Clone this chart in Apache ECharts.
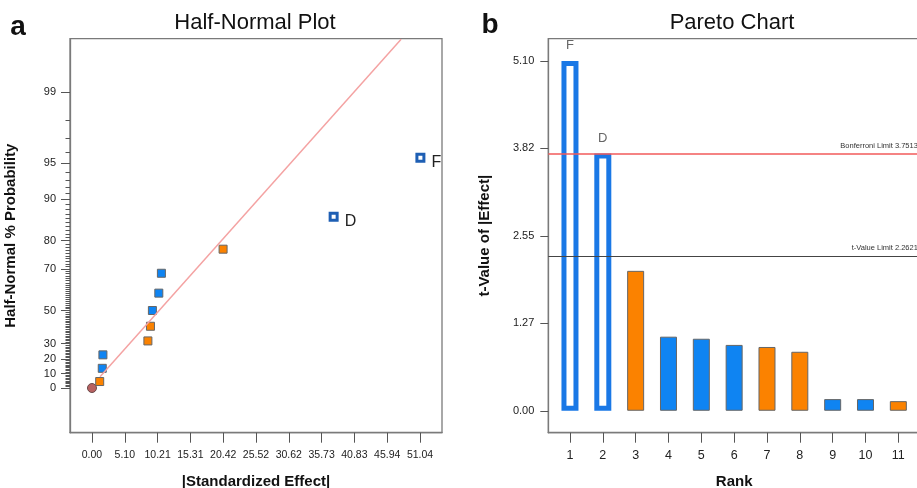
<!DOCTYPE html>
<html>
<head>
<meta charset="utf-8">
<script src="https://cdn.jsdelivr.net/npm/echarts@6/dist/echarts.min.js"></script>
<style>
  html, body { margin: 0; padding: 0; background: #fff; }
  #main { width: 917px; height: 488px; }
</style>
</head>
<body>
<div id="main"></div>
<script>
// ---- half-normal plot data ----
const xTickLabels = ['0.00', '5.10', '10.21', '15.31', '20.42', '25.52', '30.62', '35.73', '40.83', '45.94', '51.04'];
const probTickLabels = [0, 10, 20, 30, 50, 70, 80, 90, 95, 99];

const blueEffect = [1.6, 1.7, 9.4, 10.4, 10.8];
const blueProb = [13.6, 22.7, 50.0, 59.1, 68.2];
const orangeEffect = [1.2, 8.7, 9.1, 20.4];
const orangeProb = [4.5, 31.8, 40.9, 77.3];
const bigNames = ['D', 'F'];
const bigEffect = [37.6, 51.1];
const bigProb = [86.4, 95.5];
const errorEffect = [0];
const errorProb = [0];
const fitEffect = [1.25, 48.1];
const fitProb = [7.8, 99.76];

// ---- pareto chart data ----
const ranks = [1, 2, 3, 4, 5, 6, 7, 8, 9, 10, 11];
const tValues = [5.10, 3.75, 2.04, 1.08, 1.05, 0.96, 0.93, 0.86, 0.17, 0.17, 0.14];
const effectSign = ['+', '+', '-', '+', '+', '+', '-', '-', '+', '+', '-'];
const termNames = ['F', 'D', '', '', '', '', '', '', '', '', ''];
const tTickLabels = ['0.00', '1.27', '2.55', '3.82', '5.10'];
const tTickValues = [0, 1.275, 2.55, 3.825, 5.10];
const bonferroniLimit = 3.75131;
const tValueLimit = 2.26216;

const BLUE = '#0f84f2';
const ORANGE = '#fb8200';
const FONT = "'Liberation Sans', Arial, sans-serif";
const NARROW = "'Liberation Sans Narrow', 'Liberation Sans', Arial, sans-serif";

// inverse normal cdf (Acklam)
function normInv(p) {
  const a = [-3.969683028665376e+01, 2.209460984245205e+02, -2.759285104469687e+02, 1.383577518672690e+02, -3.066479806614716e+01, 2.506628277459239e+00];
  const b = [-5.447609879822406e+01, 1.615858368580409e+02, -1.556989798598866e+02, 6.680131188771972e+01, -1.328068155288572e+01];
  const c = [-7.784894002430293e-03, -3.223964580411365e-01, -2.400758277161838e+00, -2.549671010249000e+00, 4.374664141464968e+00, 2.938163982698783e+00];
  const d = [7.784695709041462e-03, 3.224671290700398e-01, 2.445134137142996e+00, 3.754408661907416e+00];
  const pl = 0.02425;
  let q, r;
  if (p < pl) {
    q = Math.sqrt(-2 * Math.log(p));
    return (((((c[0] * q + c[1]) * q + c[2]) * q + c[3]) * q + c[4]) * q + c[5]) / ((((d[0] * q + d[1]) * q + d[2]) * q + d[3]) * q + 1);
  }
  if (p <= 1 - pl) {
    q = p - 0.5; r = q * q;
    return (((((a[0] * r + a[1]) * r + a[2]) * r + a[3]) * r + a[4]) * r + a[5]) * q / (((((b[0] * r + b[1]) * r + b[2]) * r + b[3]) * r + b[4]) * r + 1);
  }
  q = Math.sqrt(-2 * Math.log(1 - p));
  return -(((((c[0] * q + c[1]) * q + c[2]) * q + c[3]) * q + c[4]) * q + c[5]) / ((((d[0] * q + d[1]) * q + d[2]) * q + d[3]) * q + 1);
}
// half-normal probability scale: % -> z
const hz = p => normInv(0.5 + p / 200);
const pairs = (xs, ps) => xs.map((x, i) => [x, hz(ps[i])]);

const probTickZ = probTickLabels.map(hz);
const probMinorZ = [];
for (let p = 1; p <= 98; p++) probMinorZ.push(hz(p));
const xTickValues = xTickLabels.map(parseFloat);

const hollow = i => termNames[i] !== '';

let myecharts = echarts.init(document.getElementById('main'));
myecharts.setOption({
  animation: false,
  graphic: [
    { type: 'text', x: 18, y: 27, style: { text: 'a', font: 'bold 28px ' + FONT, fill: '#111', align: 'center', verticalAlign: 'middle' } },
    { type: 'text', x: 255, y: 23, style: { text: 'Half-Normal Plot', font: 'normal 22px ' + FONT, fill: '#111', align: 'center', verticalAlign: 'middle' } },
    { type: 'text', x: 490, y: 25, style: { text: 'b', font: 'bold 28px ' + FONT, fill: '#111', align: 'center', verticalAlign: 'middle' } },
    { type: 'text', x: 732, y: 23, style: { text: 'Pareto Chart', font: 'normal 22px ' + FONT, fill: '#111', align: 'center', verticalAlign: 'middle' } }
  ],
  grid: [
    { left: 70, top: 38.7, width: 372, height: 394, show: true, borderColor: '#7a7a7a', borderWidth: 1.3, outerBoundsMode: 'none' },
    { left: 548.3, top: 38.7, width: 371.7, height: 394, show: true, borderColor: '#7a7a7a', borderWidth: 1.3, outerBoundsMode: 'none' }
  ],
  xAxis: [
    {
      gridIndex: 0, type: 'value', min: -3.42, max: 54.46,
      name: '|Standardized Effect|', nameLocation: 'middle', nameGap: 42,
      nameTextStyle: { fontFamily: FONT, fontSize: 15, fontWeight: 'bold', color: '#111' },
      axisLine: { onZero: false, lineStyle: { color: '#7a7a7a', width: 1.3 } },
      axisTick: { length: 10, lineStyle: { color: '#555' }, customValues: xTickValues },
      axisLabel: { customValues: xTickValues, margin: 17, fontFamily: NARROW, fontSize: 10.5, color: '#222',
        formatter: v => xTickLabels[xTickValues.indexOf(v)] },
      splitLine: { show: false }
    },
    {
      gridIndex: 1, type: 'value', min: 0.34, max: 11.66,
      name: 'Rank', nameLocation: 'middle', nameGap: 42,
      nameTextStyle: { fontFamily: FONT, fontSize: 15, fontWeight: 'bold', color: '#111' },
      axisLine: { onZero: false, lineStyle: { color: '#7a7a7a', width: 1.3 } },
      axisTick: { length: 10, lineStyle: { color: '#555' }, customValues: ranks },
      axisLabel: { customValues: ranks, margin: 16, fontFamily: FONT, fontSize: 12.5, color: '#222' },
      splitLine: { show: false }
    },
    // hidden twin axis for the hollow bars
    { gridIndex: 1, type: 'value', min: 0.34, max: 11.66, show: false }
  ],
  yAxis: [
    {
      gridIndex: 0, type: 'value', min: -0.389, max: 3.04,
      name: 'Half-Normal % Probability', nameLocation: 'middle', nameGap: 52,
      nameTextStyle: { fontFamily: FONT, fontSize: 15, fontWeight: 'bold', color: '#111' },
      axisLine: { onZero: false, lineStyle: { color: '#7a7a7a', width: 1.3 } },
      axisTick: { length: 9, lineStyle: { color: '#555' }, customValues: probTickZ },
      axisLabel: { customValues: probTickZ, margin: 14, fontFamily: NARROW, fontSize: 11, color: '#222',
        formatter: v => String(probTickLabels[probTickZ.indexOf(v)]) },
      splitLine: { show: false }
    },
    {
      // minor ticks at every percent
      gridIndex: 0, type: 'value', min: -0.389, max: 3.04, position: 'left',
      axisLine: { show: false, onZero: false },
      axisTick: { show: true, length: 4.5, lineStyle: { color: '#555' }, customValues: probMinorZ },
      axisLabel: { show: false },
      splitLine: { show: false }
    },
    {
      gridIndex: 1, type: 'value', min: -0.32, max: 5.425,
      name: 't-Value of |Effect|', nameLocation: 'middle', nameGap: 56,
      nameTextStyle: { fontFamily: FONT, fontSize: 15, fontWeight: 'bold', color: '#111' },
      axisLine: { onZero: false, lineStyle: { color: '#7a7a7a', width: 1.3 } },
      axisTick: { length: 8, lineStyle: { color: '#555' }, customValues: tTickValues },
      axisLabel: { customValues: tTickValues, margin: 14, fontFamily: NARROW, fontSize: 11, color: '#222',
        formatter: v => tTickLabels[tTickValues.indexOf(v)] },
      splitLine: { show: false }
    }
  ],
  series: [
    {
      type: 'line', xAxisIndex: 0, yAxisIndex: 0,
      data: pairs(fitEffect, fitProb),
      symbol: 'none', clip: true,
      lineStyle: { color: '#f4a3a3', width: 1.5 }
    },
    {
      type: 'scatter', xAxisIndex: 0, yAxisIndex: 0,
      data: pairs(errorEffect, errorProb),
      symbol: 'circle', symbolSize: 9,
      itemStyle: { color: '#b86262', borderColor: '#6a4a4a', borderWidth: 1, opacity: 1 }
    },
    {
      type: 'scatter', xAxisIndex: 0, yAxisIndex: 0,
      data: pairs(orangeEffect, orangeProb),
      symbol: 'rect', symbolSize: 8,
      itemStyle: { color: ORANGE, borderColor: '#666', borderWidth: 1, opacity: 1 }
    },
    {
      type: 'scatter', xAxisIndex: 0, yAxisIndex: 0,
      data: pairs(blueEffect, blueProb),
      symbol: 'rect', symbolSize: 8,
      itemStyle: { color: BLUE, borderColor: '#666', borderWidth: 1, opacity: 1 }
    },
    {
      type: 'scatter', xAxisIndex: 0, yAxisIndex: 0,
      data: bigEffect.map((x, i) => ({ value: [x, hz(bigProb[i])], name: bigNames[i] })),
      symbol: 'rect', symbolSize: 7,
      itemStyle: { color: '#fff', borderColor: '#1e5fb4', borderWidth: 3, opacity: 1 },
      label: { show: true, position: 'right', distance: 6, offset: [0, 5], formatter: '{b}',
        fontFamily: FONT, fontSize: 16, color: '#222' }
    },
    {
      // filled bars
      type: 'bar', xAxisIndex: 1, yAxisIndex: 2,
      data: ranks.map((r, i) => hollow(i) ? null : {
        value: [r, tValues[i]],
        itemStyle: { color: effectSign[i] === '+' ? BLUE : ORANGE }
      }).filter(d => d),
      barWidth: 17,
      itemStyle: { borderColor: '#666', borderWidth: 1 },
      markLine: {
        silent: true, symbol: 'none',
        data: [
          { yAxis: bonferroniLimit, lineStyle: { color: '#f25a5a', width: 1.5, type: 'solid' },
            label: { formatter: 'Bonferroni Limit 3.75131' } },
          { yAxis: tValueLimit, lineStyle: { color: '#444', width: 1, type: 'solid' },
            label: { formatter: 't-Value Limit 2.26216' } }
        ],
        label: { position: 'insideEndTop', distance: 4, offset: [6, 0], fontFamily: FONT, fontSize: 7.5, color: '#333' }
      }
    },
    {
      // hollow bars for the significant terms
      type: 'bar', xAxisIndex: 2, yAxisIndex: 2,
      data: ranks.map((r, i) => hollow(i) ? { value: [r, tValues[i]], name: termNames[i] } : null).filter(d => d),
      barWidth: 17,
      itemStyle: { color: '#fff', borderColor: '#1a78e6', borderWidth: 5 },
      label: { show: true, position: 'top', distance: 9, formatter: '{b}', fontFamily: FONT, fontSize: 13, color: '#666' }
    }
  ]
});
</script>
</body>
</html>
